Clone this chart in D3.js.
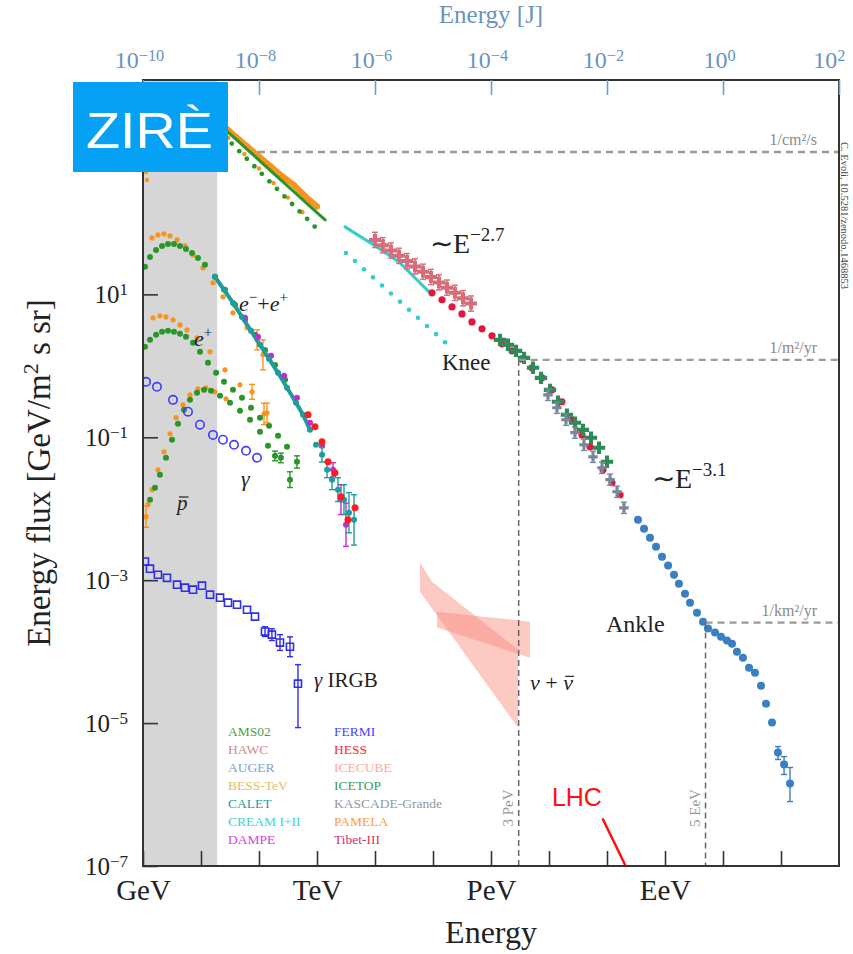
<!DOCTYPE html>
<html>
<head>
<meta charset="utf-8">
<script src="https://cdn.jsdelivr.net/npm/d3@7"></script>
<style>
  body { margin: 0; background: #fff; }
  svg { display: block; font-family: 'Liberation Serif', 'Times New Roman', serif; }
</style>
</head>
<body>
<svg id="chart" width="853" height="954"></svg>
<script>
/* global d3 */
// all series: [energy (GeV), energy flux (GeV/m2 s sr), lower, upper]
const protonPamela = [[20, 2500], [25, 2250], [40, 1600], [63, 1170], [100, 850], [158, 620], [251, 450], [400, 340], [630, 235], [1000, 170]]
const protonAms = [[20, 2350], [25, 2090], [40, 1490], [63, 1064], [100, 758], [158, 540], [251, 385], [400, 274], [630, 195], [1000, 139], [1380, 110]]
const heliumAms = [[25.1, 1640], [33.9, 1290], [45.7, 1010], [61.7, 791], [83.2, 621], [112, 487], [151, 382], [204, 300], [275, 235], [372, 184], [501, 145], [676, 114], [912, 89]]
const heliumPamela = [[1.13, 516], [1.17, 399], [29.5, 1550], [56, 920], [100, 577], [178, 361], [316, 226], [562, 141]]
const creamLine = [[3040, 88], [10800, 46.1], [27000, 27.6], [88700, 10.5]]
const creamDots = [[3160, 38], [4520, 29.3], [6460, 22.5], [9240, 17.3], [13200, 13.3], [18900, 10.3], [27000, 7.91], [38600, 6.09], [55100, 4.69], [78800, 3.61], [113000, 2.78], [161000, 2.14]]
const hawc = [[10000, 57.8], [13700, 48.7], [18900, 41.1], [25900, 34.6], [35600, 29.2], [49000, 24.6], [67300, 20.7], [92400, 17.5], [127000, 14.7], [174000, 12.4], [239000, 10.5], [329000, 8.83], [452000, 7.43]]
const tibet = [[96100, 10.5], [143000, 8.38], [213000, 6.68], [316000, 5.33], [470000, 4.12], [700000, 3.29], [1.04e6, 2.63], [1.55e6, 2.03], [2.3e6, 1.62], [3.42e6, 1.25], [5.09e6, 0.938], [7.57e6, 0.679], [1.13e7, 0.461], [1.67e7, 0.314], [2.49e7, 0.176], [3.71e7, 0.108], [5.09e7, 0.0736], [8.53e7, 0.0351], [1.22e8, 0.0231], [1.68e8, 0.0157]]
const icetop = [[1.43e6, 2.31], [1.96e6, 1.97], [2.7e6, 1.62], [3.71e6, 1.29], [5.3e6, 0.938], [7.28e6, 0.679], [1.04e7, 0.461], [1.43e7, 0.314], [2.04e7, 0.207], [2.81e7, 0.16], [3.85e7, 0.127], [5.3e7, 0.0984], [7.28e7, 0.0713], [1e8, 0.0454]]
const kascade = [[9.6e6, 0.393], [1.37e7, 0.259], [1.96e7, 0.176], [2.81e7, 0.116], [4.01e7, 0.0785], [5.74e7, 0.0533], [8.2e7, 0.0374], [1.13e8, 0.0255], [1.49e8, 0.0173], [1.96e8, 0.0103]]
const auger = [[3.42e8, 7.02e-3], [4.35e8, 5.25e-3], [5.51e8, 3.93e-3], [7.0e8, 2.94e-3], [8.87e8, 2.13e-3], [1.13e9, 1.6e-3], [1.43e9, 1.19e-3], [1.74e9, 8.94e-4], [2.21e9, 6.47e-4], [2.7e9, 4.84e-4], [3.56e9, 3.51e-4], [4.52e9, 2.63e-4], [5.51e9, 2.1e-4], [7.28e9, 1.85e-4], [9.24e9, 1.62e-4], [1.17e10, 1.43e-4], [1.43e10, 1.29e-4], [1.74e10, 1.0e-4], [2.21e10, 8.24e-5], [2.81e10, 5.97e-5], [3.56e10, 5.08e-5], [4.52e10, 3.34e-5], [5.51e10, 1.87e-5], [7.0e10, 1.02e-5], [8.87e10, 3.87e-6, 3.09e-6, 4.69e-6], [1.13e11, 2.63e-6, 1.91e-6, 3.4e-6], [1.43e11, 1.43e-6, 7.98e-7, 2.39e-6]]

const elecAms = [[1.08, 24.3], [1.32, 33.4], [1.68, 41.9], [2.13, 47.6], [2.7, 50.8], [3.42, 50.8], [4.34, 47.6], [5.51, 43.3], [7.0, 38.0], [8.87, 32.4], [11.7, 25.9], [17.4, 17.6], [25.9, 11.6], [38.6, 7.13], [57.4, 4.4], [85.3, 2.72], [127, 1.67], [189, 1.03], [281, 0.637]]
const elecCalet = [[17.4, 17.6], [24.9, 11.6], [35.6, 7.6], [50.9, 4.84], [72.8, 3.09], [104, 1.97], [149, 1.25], [213, 0.798], [304, 0.492], [435, 0.304], [574, 0.207], [757, 0.127], [962, 0.0785], [1220, 0.0569, 0.045, 0.072], [1490, 0.0351, 0.0272, 0.0454], [1820, 0.0255, 0.0185, 0.035], [2300, 0.0185, 0.0126, 0.0272], [2920, 0.0134, 0.0083, 0.0217], [3560, 0.0088, 0.0046, 0.0168], [4350, 0.007, 0.0031, 0.0157]]
const elecDampe = [[57.4, 4.69], [96.1, 2.55], [161, 1.38], [270, 0.724], [452, 0.356], [757, 0.16], [1220, 0.076], [1890, 0.0351, 0.028, 0.044], [2590, 0.0134, 0.0083, 0.0217], [3160, 0.00597, 0.00297, 0.012]]
const elecHess = [[700, 0.207], [924, 0.14], [1220, 0.0865], [1550, 0.0454], [2040, 0.0318], [2590, 0.0147], [3420, 0.00702], [4520, 0.0103]]
const elecPamela = [[1.43, 61.7], [1.81, 67.9], [2.3, 70.1], [2.92, 65.8], [3.86, 57.8], [5.3, 47.6], [7.28, 35.6], [10.8, 23.5], [16.1, 14.5], [23.9, 9.23], [35.6, 5.51], [62.1, 3.4], [92.4, 2.31, 1.67, 3.19], [117, 1.43, 0.88, 2.31]]
const posPamela = [[1.49, 4.69], [1.96, 5.0], [2.49, 4.84], [3.29, 4.4], [4.34, 3.74], [5.74, 3.18], [8.53, 2.46], [14.3, 1.57], [25.9, 0.879], [47, 0.542], [75.7, 0.433, 0.34, 0.55], [122, 0.213, 0.15, 0.3]]
const posAms = [[1.08, 1.85], [1.32, 2.31], [1.68, 2.72], [2.13, 2.99], [2.7, 3.09], [3.42, 2.99], [4.34, 2.81], [5.51, 2.55], [7.28, 2.1], [9.61, 1.57], [13.2, 1.1], [18.2, 0.798], [24.9, 0.597], [35.6, 0.461], [50.9, 0.356], [72.8, 0.259], [104, 0.188], [149, 0.145], [213, 0.105], [304, 0.0736], [452, 0.0454, 0.037, 0.055], [342, 0.0255, 0.0198, 0.0329]]
const pbarAms = [[1.32, 0.0134], [1.61, 0.0197], [1.96, 0.0299], [2.49, 0.0516], [3.16, 0.0923], [4.01, 0.155], [5.09, 0.243], [6.46, 0.334], [8.53, 0.419], [11.3, 0.461], [14.9, 0.447], [21.3, 0.38], [31.6, 0.304], [47, 0.235], [70, 0.176], [104, 0.119], [143, 0.076], [189, 0.0551, 0.047, 0.064], [239, 0.0516, 0.044, 0.06]]
const pbarPamela = [[1.13, 0.00773, 0.0055, 0.011], [1.22, 0.0114], [1.43, 0.0185], [1.81, 0.0351], [2.3, 0.0627], [2.92, 0.112], [3.71, 0.188], [4.9, 0.285], [6.46, 0.393], [8.87, 0.476], [12.2, 0.492], [17.4, 0.433], [27, 0.345], [137, 0.22, 0.16, 0.3]]
const gammaDiffuse = [[1.13, 0.597], [1.74, 0.508], [3.29, 0.334], [5.97, 0.228], [9.61, 0.15], [16.1, 0.108], [23.9, 0.0923], [37.1, 0.0785], [59.7, 0.0647], [92.4, 0.0516]]
const gammaIrgb = [[1.08, 1.82e-3], [1.32, 1.45e-3], [1.81, 1.19e-3], [2.59, 1.08e-3], [3.86, 8.65e-4], [5.3, 7.85e-4], [7.28, 7.36e-4], [10.4, 8.38e-4], [14.3, 6.27e-4], [21.3, 5.69e-4], [29.2, 4.84e-4], [41.8, 4.54e-4], [62.1, 3.86e-4], [85.3, 3.09e-4], [127, 1.91e-4, 1.63e-4, 2.23e-4], [167, 1.73e-4, 1.43e-4, 2.09e-4], [230, 1.34e-4, 1.04e-4, 1.73e-4], [342, 1.17e-4, 8.5e-5, 1.61e-4], [470, 3.56e-5, 8.65e-6, 6.58e-5]]
const nuSteep = [[5.97e4, 1.76e-3], [9.61e4, 9.53e-4], [2.92e6, 1.07e-4], [2.92e6, 8.65e-6], [5.97e4, 6.9e-4]]
const nuFlat = [[1.17e5, 3.62e-4], [4.7e6, 2.63e-4], [4.7e6, 8.24e-5], [1.17e5, 2.17e-4]]
const lhc = [[8.5e7, 4.5e-7], [2.1e8, 1e-7]]
const lowEnergyBand = [1, 19]

const refLevels = ['1/cm²/s', '1/m²/yr', '1/km²/yr']
const refFlux = [984, 1.21, 2.55e-4]
const refStart = [96, 3e6, 5e9]
const refEnergyLabels = ['3 PeV', '5 EeV']

const xTickNames = { 1: 'GeV', 1e3: 'TeV', 1e6: 'PeV', 1e9: 'EeV' }
const xTicks = [1, 1e1, 1e2, 1e3, 1e4, 1e5, 1e6, 1e7, 1e8, 1e9, 1e10, 1e11]
const yTicks = [1e-7, 1e-5, 1e-3, 1e-1, 1e1]
const jTicks = [1e-10, 1e-8, 1e-6, 1e-4, 1e-2, 1, 1e2]

const legendLeft = ['AMS02', 'HAWC', 'AUGER', 'BESS-TeV', 'CALET', 'CREAM I+II', 'DAMPE']
const legendRight = ['FERMI', 'HESS', 'ICECUBE', 'ICETOP', 'KASCADE-Grande', 'PAMELA', 'Tibet-III']
const legendColor = {
  'AMS02': '#4a9e4a', 'HAWC': '#d28a92', 'AUGER': '#7ca2d2', 'BESS-TeV': '#e6bc68', 'CALET': '#2a9d9d',
  'CREAM I+II': '#3fd2d2', 'DAMPE': '#d246d6', 'FERMI': '#4646ff', 'HESS': '#ff2a2a', 'ICECUBE': '#ffaaa0',
  'ICETOP': '#3d9a5e', 'KASCADE-Grande': '#8f99a6', 'PAMELA': '#ffa03c', 'Tibet-III': '#d43464'
}

const W = 853
const H = 954
const margin = { left: 143, right: 14, top: 80, bottom: 88 }
const svg = d3.select('#chart')
const x = d3.scaleLog().domain([1, 1e12]).range([margin.left, W - margin.right])
const y = d3.scaleLog().domain([1e-7, 1e4]).range([H - margin.bottom, margin.top])
const xJ = d3.scaleLog().domain([1e-10, 1e2]).range(x.range())
const innerW = x.range()[1] - x.range()[0]
const innerH = y.range()[0] - y.range()[1]

svg.append('defs').append('clipPath').attr('id', 'clip')
  .append('rect')
  .attr('x', margin.left).attr('y', margin.top)
  .attr('width', innerW).attr('height', innerH)

svg.append('rect')
  .attr('x', x(lowEnergyBand[0])).attr('y', margin.top)
  .attr('width', x(lowEnergyBand[1]) - x(lowEnergyBand[0])).attr('height', innerH)
  .attr('fill', '#d6d6d6')

const plot = svg.append('g').attr('clip-path', 'url(#clip)')
const line = d3.line().x(d => x(d[0])).y(d => y(d[1]))

let drawLine = function (data, color, width, dash) {
  plot.append('path').datum(data)
    .attr('d', line)
    .attr('fill', 'none')
    .attr('stroke', color)
    .attr('stroke-width', width)
    .attr('stroke-linecap', 'round')
    .attr('stroke-dasharray', dash || null)
}
let drawErr = function (data, color, width = 1.4) {
  let g = plot.append('g').attr('stroke', color).attr('stroke-width', width)
  data.filter(d => d.length > 2).forEach(d => {
    let cx = x(d[0])
    g.append('line').attr('x1', cx).attr('x2', cx).attr('y1', y(d[2])).attr('y2', y(d[3]))
    g.append('line').attr('x1', cx - 3).attr('x2', cx + 3).attr('y1', y(d[2])).attr('y2', y(d[2]))
    g.append('line').attr('x1', cx - 3).attr('x2', cx + 3).attr('y1', y(d[3])).attr('y2', y(d[3]))
  })
}
let drawDots = function (data, color, r, hollow) {
  drawErr(data, color)
  plot.append('g').selectAll('circle').data(data)
    .enter().append('circle')
    .attr('cx', d => x(d[0]))
    .attr('cy', d => y(d[1]))
    .attr('r', r)
    .attr('fill', hollow ? 'none' : color)
    .attr('stroke', hollow ? color : 'none')
    .attr('stroke-width', 1.6)
}
let drawSymbols = function (data, color, type, size, hollow) {
  drawErr(data, color)
  plot.append('g').selectAll('path').data(data)
    .enter().append('path')
    .attr('transform', d => `translate(${x(d[0])},${y(d[1])})`)
    .attr('d', d3.symbol().type(type).size(size))
    .attr('fill', hollow ? 'none' : color)
    .attr('stroke', hollow ? color : 'none')
    .attr('stroke-width', 1.6)
}

// neutrinos
const area = d3.line().x(d => x(d[0])).y(d => y(d[1]))
;[nuSteep, nuFlat].forEach(poly => {
  plot.append('path').datum(poly)
    .attr('d', d => area(d) + 'Z')
    .attr('fill', '#f8877b')
    .attr('fill-opacity', 0.45)
})

// reference levels
const refG = svg.append('g')
refLevels.forEach((lab, i) => {
  refG.append('line')
    .attr('x1', x(refStart[i])).attr('x2', x.range()[1])
    .attr('y1', y(refFlux[i])).attr('y2', y(refFlux[i]))
    .attr('stroke', '#9a9a9a').attr('stroke-width', 2.4).attr('stroke-dasharray', '7,5')
  refG.append('text')
    .attr('x', x.range()[1] - 22).attr('y', y(refFlux[i]) - 7)
    .attr('text-anchor', 'end').attr('font-size', 16).attr('fill', '#8a8a8a')
    .text(lab)
  if (i > 0) {
    refG.append('line')
      .attr('x1', x(refStart[i])).attr('x2', x(refStart[i]))
      .attr('y1', y(refFlux[i])).attr('y2', y.range()[0])
      .attr('stroke', '#666').attr('stroke-width', 1.5).attr('stroke-dasharray', '6,4')
    refG.append('text')
      .attr('transform', `translate(${x(refStart[i]) - 6},${y.range()[0] - 58}) rotate(-90)`)
      .attr('text-anchor', 'middle').attr('font-size', 15).attr('fill', '#999')
      .text(refEnergyLabels[i - 1])
  }
})

// protons and helium
drawLine(protonPamela, '#f7941d', 6)
drawDots(protonPamela, '#f7941d', 3)
drawLine(protonAms, '#2a962a', 3)
drawDots(heliumPamela, '#f7941d', 2.2)
drawDots(heliumAms, '#2a962a', 2.4)

// CREAM, HAWC and the knee
drawLine(creamLine, '#35cccc', 3)
drawDots(creamDots, '#35cccc', 2.3)
drawSymbols(hawc.map(d => [d[0], d[1], d[1] / 1.28, d[1] * 1.28]), '#d66d78', d3.symbolCross, 80)
drawDots(tibet, '#e0183f', 3.6)
drawSymbols(icetop, '#2e8b57', d3.symbolCross, 85)
drawSymbols(kascade.map(d => [d[0], d[1], d[1] / 1.2, d[1] * 1.2]), '#78889a', d3.symbolCross, 50)
drawDots(auger, '#3a7fc1', 4)

// electrons, positrons, antiprotons
drawDots(elecPamela, '#f7941d', 2.6)
drawDots(elecAms, '#2a962a', 3)
drawLine(elecCalet.slice(0, 12), '#1f9c9c', 4)
drawDots(elecDampe, '#c42ad0', 3)
drawDots(elecCalet, '#1f9c9c', 3)
drawDots(elecHess, '#ff1c1c', 3.5)
drawDots(posPamela, '#f7941d', 2.6)
drawDots(posAms, '#2a962a', 3)
drawDots(pbarPamela, '#f7941d', 2.6)
drawDots(pbarAms, '#2a962a', 3)

// photons
drawDots(gammaDiffuse, '#3c3cff', 4.2, true)
drawSymbols(gammaIrgb, '#2e2ee8', d3.symbolSquare, 50, true)

// LHC
drawLine(lhc, '#ff1010', 2.5)
svg.append('text').attr('x', x(lhc[0][0]) - 1).attr('y', y(lhc[0][1]) - 13)
  .attr('text-anchor', 'end').attr('font-size', 25).attr('fill', '#ff1010')
  .attr('font-family', 'Liberation Sans, Arial, sans-serif')
  .text('LHC')

// frame
svg.append('rect')
  .attr('x', margin.left).attr('y', margin.top)
  .attr('width', innerW).attr('height', innerH)
  .attr('fill', 'none').attr('stroke', '#333').attr('stroke-width', 2)

let powLabel = function (sel, d) {
  let e = Math.round(Math.log10(d))
  sel.text(null)
  sel.append('tspan').text('10')
  sel.append('tspan').attr('dy', '-0.45em').attr('font-size', '0.68em')
    .text(e < 0 ? '\u2212' + (-e) : String(e))
}

const xAxis = d3.axisBottom(x).tickValues(xTicks).tickSizeInner(-15).tickSizeOuter(0).tickPadding(13)
  .tickFormat(d => xTickNames[d] || '')
const gx = svg.append('g').attr('transform', `translate(0,${y.range()[0]})`).call(xAxis)
gx.attr('font-size', 29).attr('font-family', null)
gx.select('.domain').remove()
gx.selectAll('.tick line').attr('stroke', '#333').attr('stroke-width', 1.6)
gx.selectAll('.tick text').attr('fill', '#222')

const yAxis = d3.axisLeft(y).tickValues(yTicks).tickSizeInner(-15).tickSizeOuter(0).tickPadding(15)
const gy = svg.append('g').attr('transform', `translate(${margin.left},0)`).call(yAxis)
gy.attr('font-size', 25).attr('font-family', null)
gy.select('.domain').remove()
gy.selectAll('.tick line').attr('stroke', '#333').attr('stroke-width', 1.6)
gy.selectAll('.tick text').attr('fill', '#222').each(function (d) { powLabel(d3.select(this), d) })

const jAxis = d3.axisTop(xJ).tickValues(jTicks).tickSizeInner(-15).tickSizeOuter(0).tickPadding(12)
const gj = svg.append('g').attr('transform', `translate(0,${margin.top})`).call(jAxis)
gj.attr('font-size', 24).attr('font-family', null)
gj.select('.domain').remove()
gj.selectAll('.tick line').attr('stroke', '#6f9bc8').attr('stroke-width', 1.6)
gj.selectAll('.tick text').attr('fill', '#6a93bd').attr('x', -4)
  .each(function (d) { powLabel(d3.select(this), d) })
gj.selectAll('.tick text').filter(d => d === 1e2).attr('text-anchor', 'end').attr('x', 6)

// axis titles
svg.append('text').attr('x', (x.range()[0] + x.range()[1]) / 2).attr('y', 943)
  .attr('text-anchor', 'middle').attr('font-size', 32).attr('fill', '#222').text('Energy')
svg.append('text').attr('x', (x.range()[0] + x.range()[1]) / 2).attr('y', 23)
  .attr('text-anchor', 'middle').attr('font-size', 25).attr('fill', '#6a93bd').text('Energy [J]')
const yTitle = svg.append('text')
  .attr('transform', `translate(50,${(y.range()[0] + y.range()[1]) / 2}) rotate(-90)`)
  .attr('text-anchor', 'middle').attr('font-size', 33).attr('fill', '#222')
yTitle.append('tspan').text('Energy flux [GeV/m')
yTitle.append('tspan').attr('dy', -12).attr('font-size', 22).text('2')
yTitle.append('tspan').attr('dy', 12).text(' s sr]')

// annotations
let richText = function (px, py, parts, size, color) {
  let t = svg.append('text').attr('x', px).attr('y', py).attr('font-size', size).attr('fill', color || '#222')
  let shift = 0
  parts.forEach(p => {
    let target = p.sup ? -0.42 * size : 0
    t.append('tspan').attr('dy', target - shift)
      .attr('font-size', p.sup ? size * 0.68 : size)
      .attr('font-style', p.it ? 'italic' : null)
      .text(p.t)
    shift = target
  })
  return t
}
// letter with a bar over the last glyph (antiparticles)
let barLast = function (t, px, py, size) {
  let w = t.node().getComputedTextLength()
  let cw = t.select('tspan:last-child').node().getComputedTextLength()
  svg.append('line')
    .attr('x1', px + w - cw + 2).attr('x2', px + w + 1)
    .attr('y1', py - 0.62 * size).attr('y2', py - 0.62 * size)
    .attr('stroke', '#222').attr('stroke-width', 1.2)
}
richText(430, 253, [{ t: '\u223cE' }, { t: '\u22122.7', sup: true }], 28)
richText(652, 488, [{ t: '\u223cE' }, { t: '\u22123.1', sup: true }], 28)
richText(442, 370, [{ t: 'Knee' }], 23)
richText(606, 632, [{ t: 'Ankle' }], 24)
let nu = richText(530, 690, [{ t: '\u03bd', it: true }, { t: ' + ' }, { t: '\u03bd', it: true }], 22)
barLast(nu, 530, 690, 22)
richText(314, 687, [{ t: '\u03b3', it: true }, { t: ' IRGB' }], 21)
richText(239, 311, [{ t: 'e', it: true }, { t: '\u2212', sup: true }, { t: '+' }, { t: 'e', it: true }, { t: '+', sup: true }], 22)
richText(194, 346, [{ t: 'e', it: true }, { t: '+', sup: true }], 22)
richText(241, 486, [{ t: '\u03b3', it: true }], 22)
let pbar = richText(177, 510, [{ t: 'p', it: true }], 21)
barLast(pbar, 177, 510, 21)

// legend
const legend = svg.append('g').attr('font-size', 13.5)
;[legendLeft, legendRight].forEach((col, ci) => {
  col.forEach((name, i) => {
    legend.append('text')
      .attr('x', ci === 0 ? 228 : 334)
      .attr('y', 736 + i * 18)
      .attr('fill', legendColor[name])
      .text(name)
  })
})

// credit
svg.append('text')
  .attr('transform', 'translate(841,142) rotate(90)')
  .attr('font-size', 10.5).attr('fill', '#444')
  .text('C. Evoli, 10.5281/zenodo.1468853')

// watermark
svg.append('rect').attr('x', 73).attr('y', 82).attr('width', 155).attr('height', 90).attr('fill', '#06a0f5')
svg.append('text').attr('x', 86).attr('y', 148)
  .attr('font-family', 'Liberation Sans, Arial, sans-serif').attr('font-size', 50)
  .attr('fill', '#fff').attr('textLength', 127).attr('lengthAdjust', 'spacingAndGlyphs')
  .text('ZIR\u00c8')
</script>
</body>
</html>
